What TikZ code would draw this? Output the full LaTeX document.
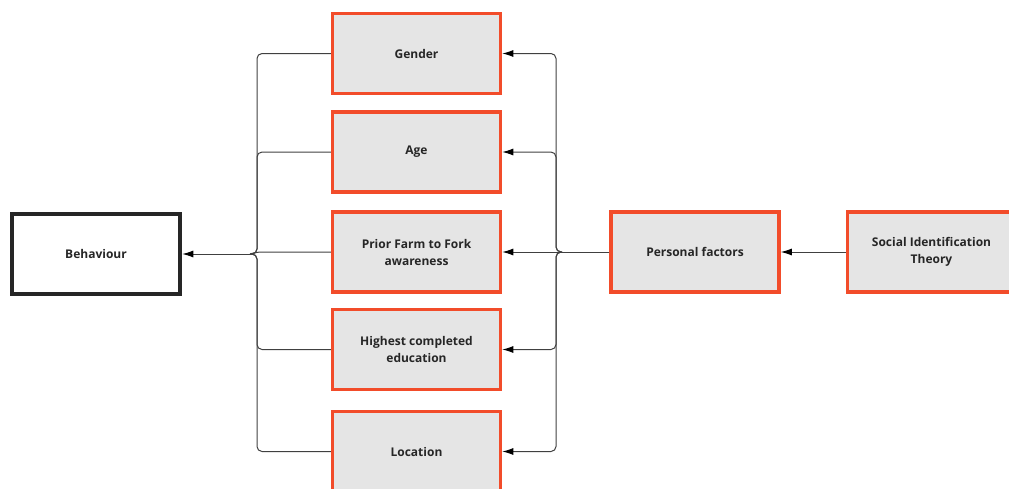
\documentclass[tikz,border=0pt]{standalone}
\usepackage{fontspec}
\setmainfont{Open Sans}
\usepackage{tikz}
\usetikzlibrary{arrows.meta}
\definecolor{frame}{RGB}{242,76,42}

\begin{document}
\begin{tikzpicture}[x=1pt,y=-1pt]
		\tikzset{factor/.style={shape = rectangle, draw = frame, fill = black!10, line width = 3.5pt,
				minimum width = 168pt, minimum height = 80pt, align = center, text = black!85,
				font = \bfseries\fontsize{12}{17}\selectfont}}
		\tikzset{result/.style={factor, draw = black!85, fill = white, line width = 4.5pt}}
		\tikzset{link/.style={draw = black!75, line width = 1pt, rounded corners = 5pt}}
		\tikzset{edge/.style={link, ->, > = {Latex[length = 11pt, width = 7pt, black]}}}
					\useasboundingbox (0,0) rectangle (1009,488);
					%vertices
					\node[factor] (gender) at (416.5,53.5) {Gender};
					\node[factor] (age) at (416.5,152) {Age};
					\node[factor] (prior) at (416.5,252) {Prior Farm to Fork\\awareness};
					\node[factor] (edu) at (416.5,349.5) {Highest completed\\education};
					\node[factor] (loc) at (416.5,451.5) {Location};
					\node[result] (beh) at (96,254) {Behaviour};
					\node[factor] (pers) at (695,252) {Personal factors};
					\node[factor] (sit) at (931.5,252) {Social Identification\\Theory};
					\coordinate (lj) at (250,254);
					\coordinate (rj) at (562,252);
					%edges
					\draw[link] (gender.west) -| (257,254) -- (lj);
					\draw[link] (age.west) -| (257,254) -- (lj);
					\draw[link] (prior.west) -- (257,252) -- (lj);
					\draw[link] (edu.west) -| (257,254) -- (lj);
					\draw[link] (loc.west) -| (257,254) -- (lj);
					\draw[edge] (lj) -- (beh.east);
					\draw[link] (pers.west) -- (rj);
					\draw[edge] (rj) -- (556,252) |- (gender.east);
					\draw[edge] (rj) -- (556,252) |- (age.east);
					\draw[edge] (rj) -- (prior.east);
					\draw[edge] (rj) -- (556,252) |- (edu.east);
					\draw[edge] (rj) -- (556,252) |- (loc.east);
					\draw[edge] (sit) -- (pers);
					
					\end{tikzpicture}
\end{document}
